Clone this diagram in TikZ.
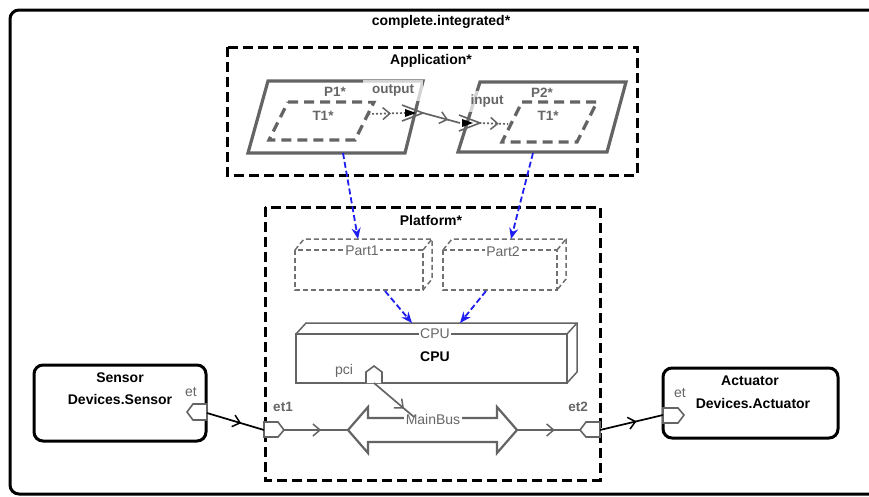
\documentclass[tikz,border=0pt]{standalone}
\usepackage{fontspec}
\setmainfont{Liberation Sans}
\usetikzlibrary{arrows.meta,decorations.markings,calc}
\definecolor{dg}{HTML}{646464}
\definecolor{lg}{HTML}{707070}
\definecolor{txg}{HTML}{666666}
\definecolor{bl}{HTML}{1E1EF0}
\begin{document}
\begin{tikzpicture}[x=1pt,y=-1pt,
  ttl/.style={font=\bfseries\fontsize{14}{16}\selectfont, inner sep=0pt},
  glab/.style={text=txg, font=\fontsize{14}{16}\selectfont, inner sep=1pt},
  glabb/.style={text=txg, font=\bfseries\fontsize{13.5}{16}\selectfont, inner sep=1pt},
  container/.style={draw=black, line width=3pt, dash pattern=on 10pt off 5pt},
  proc/.style={draw=dg, line width=3.2pt, line join=miter},
  thr/.style={draw=dg, line width=3.2pt, dash pattern=on 10pt off 6pt},
  partbox/.style={draw=lg, line width=1.5pt, dash pattern=on 5pt off 3pt},
  cpubox/.style={draw=dg, line width=1.5pt},
  portshape/.style={draw=dg, fill=white, line width=1.6pt},
  bind/.style={draw=bl, line width=1.8pt, dash pattern=on 6pt off 3pt, -{Stealth[length=11pt,width=9pt]}},
  midbarb/.style={postaction={decorate}, decoration={markings,
      mark=at position #1 with {\arrow[line width=1.5pt]{Straight Barb[length=7pt,width=12pt]}}}},
  gconn/.style={draw=dg, line width=1.7pt},
  bconn/.style={draw=black, line width=1.7pt},
  dotconn/.style={draw=dg, line width=1.7pt, dash pattern=on 2pt off 2pt}
]
\clip (0,0) rectangle (869,496);
\fill[white] (0,0) rectangle (869,496);

% outer system
\draw[line width=3pt, rounded corners=9pt] (10,10) rectangle (885,494);
\node[ttl] (systl) at (441,22) {complete.integrated*};

% Application
\draw[container] (227,47) rectangle (637,175);
\node[ttl] (apptl) at (431,61) {Application*};

% P1
\draw[proc] (268,81) -- (423,81) -- (405,153) -- (248,153) -- cycle;
\draw[thr] (288,102) -- (374,102) -- (355,140) -- (269,140) -- cycle;
\node[glabb] (p1l) at (335,92) {P1*};
\node[glabb] (t1al) at (323,116) {T1*};
\node[glabb, fill=white, fill opacity=0.72, text opacity=1, minimum width=60pt, minimum height=21pt] (outl) at (393,90) {output};

% P2
\draw[proc] (480,82) -- (626,82) -- (607,152) -- (458,152) -- cycle;
\draw[thr] (522,102) -- (597,102) -- (577,142) -- (502,142) -- cycle;
\node[glabb] (p2l) at (542,93) {P2*};
\node[glabb] (t1bl) at (548,116) {T1*};
\node[glabb, fill=white, fill opacity=0.72, text opacity=1, minimum width=38pt, minimum height=21pt] (inl) at (487,101) {input};

% data ports
\coordinate (t1aout) at (368,114);
\coordinate (outp) at (405,113);
\coordinate (outtip) at (423,113);
\coordinate (intail) at (460,123);
\coordinate (inp) at (479,123);
\coordinate (t1bin) at (508,124);
\fill[black] (405,109) -- (416,113) -- (405,117) -- cycle;
\draw[dg, line width=1.6pt] (402,105) -- (423,113) -- (402,121);
\fill[black] (462,119) -- (473,123) -- (462,127) -- cycle;
\draw[dg, line width=1.6pt] (459,115) -- (480,123) -- (459,131);
\draw[dotconn, midbarb=0.62] (t1aout) -- (outp);
\draw[dotconn, midbarb=0.68] (inp) -- (t1bin);
\draw[gconn, midbarb=0.68] (outtip) -- (intail);

% Platform
\draw[container] (265,207) rectangle (600,480);
\node[ttl] (pltl) at (431,220) {Platform*};

% Part1
\draw[partbox] (295,250) rectangle (423,290);
\draw[partbox] (295,250) -- (304,239) -- (432,239) -- (432,279) -- (423,290);
\draw[partbox] (423,250) -- (432,239);
\node[glab, fill=white] (part1) at (362,251) {Part1};
% Part2
\draw[partbox] (443,250) rectangle (557,290);
\draw[partbox] (443,250) -- (452,239) -- (566,239) -- (566,279) -- (557,290);
\draw[partbox] (557,250) -- (566,239);
\node[glab, fill=white] (part2) at (503,252) {Part2};

% CPU
\draw[cpubox] (296,334) rectangle (567,383);
\draw[cpubox] (296,334) -- (306,323) -- (577,323) -- (577,372) -- (567,383);
\draw[cpubox] (567,334) -- (577,323);
\node[glab, fill=white] (cpul) at (435,334) {CPU};
\node[ttl] (cpun) at (435,357) {CPU};

% bindings
\coordinate (p1b) at (343,153);
\coordinate (pt1t) at (358,239);
\coordinate (p2b) at (533,153);
\coordinate (pt2t) at (511,239);
\coordinate (pt1b) at (385,291);
\coordinate (cpua) at (412,323);
\coordinate (pt2b) at (486,291);
\coordinate (cpub) at (460,323);
\draw[bind] (p1b) -- (pt1t);
\draw[bind] (p2b) -- (pt2t);
\draw[bind] (pt1b) -- (cpua);
\draw[bind] (pt2b) -- (cpub);

% MainBus
\draw[draw=dg, fill=white, line width=2.2pt, line join=miter] (348,430) -- (368,407) -- (368,418) -- (497,418) -- (497,407) -- (517,430) -- (497,453) -- (497,442) -- (368,442) -- (368,453) -- cycle;
\coordinate (busl) at (348,430);
\coordinate (busr) at (517,430);
\coordinate (bustop) at (414,417);
\node[glab, fill=white, inner sep=1.5pt] (busn) at (433,419) {MainBus};

% pci port
\draw[portshape] (366,383) -- (366,372) -- (374,366) -- (382,372) -- (382,383);
\node[glab] (pcil) at (344,371) {pci};
\coordinate (pcip) at (374,383);
\draw[gconn, midbarb=0.75] (pcip) -- (bustop);

% ports et1 et2
\draw[portshape] (264,422) -- (278,422) -- (284,430) -- (278,437) -- (264,437) -- cycle;
\node[glabb] (et1l) at (283,407) {et1};
\coordinate (et1in) at (264,430);
\coordinate (et1out) at (284,430);
\draw[portshape] (600,422) -- (586,422) -- (580,430) -- (586,437) -- (600,437) -- cycle;
\node[glabb] (et2l) at (578,407) {et2};
\coordinate (et2in) at (580,430);
\coordinate (et2out) at (600,430);
\draw[gconn, midbarb=0.58] (et1out) -- (busl);
\draw[gconn, midbarb=0.6] (busr) -- (et2in);

% Sensor
\draw[line width=3pt, rounded corners=9pt] (34,365) rectangle (206,441);
\node[ttl] (sensn) at (120,378) {Sensor};
\node[ttl] (senst) at (120,399) {Devices.Sensor};
\draw[portshape] (207,404) -- (193,404) -- (187,412) -- (193,420) -- (207,420) -- cycle;
\node[glab] (setl) at (191,392) {et};
\coordinate (senp) at (207,413);

% Actuator
\draw[line width=3pt, rounded corners=9pt] (663,368) rectangle (838,438);
\node[ttl] (actn) at (750,381) {Actuator};
\node[ttl] (actt) at (753,403) {Devices.Actuator};
\draw[portshape] (663,408) -- (678,408) -- (684,415) -- (678,423) -- (663,423) -- cycle;
\node[glab] (aetl) at (680,393) {et};
\coordinate (actp) at (663,415);

\draw[bconn, midbarb=0.6] (senp) -- (et1in);
\draw[bconn, midbarb=0.58] (et2out) -- (actp);
\end{tikzpicture}
\end{document}
